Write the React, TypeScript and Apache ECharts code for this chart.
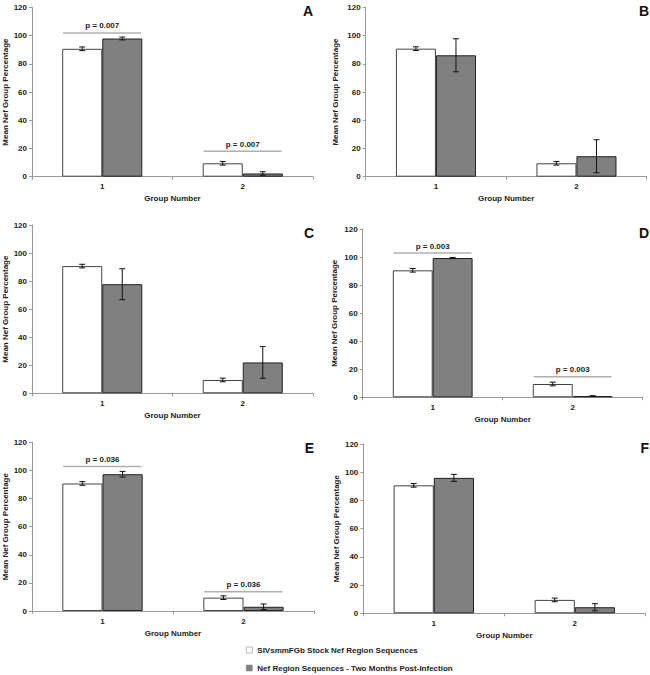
import React, { useEffect, useRef } from "react";
import * as echarts from "echarts";

// ---- data ----
const categories = ["1", "2"];
const panelLetters = ["A", "B", "C", "D", "E", "F"];
const stockName = "SIVsmmFGb Stock Nef Region Sequences";
const postName = "Nef Region Sequences - Two Months Post-Infection";
const stockMean = [90.7, 9.5];
const stockErr = [1.3, 1.3];
const postMeans = [
  [98.0, 2.3],
  [86.0, 14.5],
  [77.8, 22.0],
  [99.5, 0.9],
  [97.3, 3.0],
  [96.0, 4.3],
];
const postErrs = [
  [1.0, 1.2],
  [11.7, 11.7],
  [11.0, 11.3],
  [0.4, 0.3],
  [2.0, 2.0],
  [2.5, 2.5],
];
const pLabels: (string[] | null)[] = [
  ["p = 0.007", "p = 0.007"],
  null,
  null,
  ["p = 0.003", "p = 0.003"],
  ["p = 0.036", "p = 0.036"],
  null,
];
const pLineLevels: (number[] | null)[] = [
  [102, 18],
  null,
  null,
  [103, 14.7],
  [102.7, 13.7],
  null,
];
const yMin = 0;
const yMax = 120;
const yInterval = 20;

// ---- layout ----
const FONT = '"Liberation Sans", Arial, sans-serif';
const grids = [
  { left: 32, top: 7.5, width: 281, height: 169.2 },
  { left: 365.7, top: 7.3, width: 281, height: 169.4 },
  { left: 32, top: 225, width: 281, height: 168.3 },
  { left: 362.7, top: 229.3, width: 280, height: 168 },
  { left: 32, top: 442.3, width: 282, height: 168.7 },
  { left: 363.3, top: 444, width: 282, height: 169.3 },
];
const yNameGaps = [23, 26, 23, 24, 23, 23];
const letterPos = [
  { x: 313, y: 4 },
  { x: 649, y: 4 },
  { x: 314, y: 226 },
  { x: 649, y: 226 },
  { x: 314, y: 441 },
  { x: 649, y: 441 },
];
const BAR_FRAC = 0.285;

function buildOption() {
  const xAxis: any[] = [];
  const yAxis: any[] = [];
  const series: any[] = [];
  const graphic: any[] = [];

  grids.forEach((g, i) => {
    xAxis.push({
      type: "category",
      gridIndex: i,
      data: categories,
      name: "Group Number",
      nameLocation: "middle",
      nameGap: 18,
      nameTextStyle: { fontFamily: FONT, fontWeight: "bold", fontSize: 8, color: "#222" },
      axisLine: { lineStyle: { color: "#999", width: 1 } },
      axisTick: { show: true, length: 3, lineStyle: { color: "#999" } },
      axisLabel: { fontFamily: FONT, fontWeight: "bold", fontSize: 8, color: "#222", margin: 6 },
      splitLine: { show: false },
    });
    yAxis.push({
      type: "value",
      gridIndex: i,
      min: yMin,
      max: yMax,
      interval: yInterval,
      name: "Mean Nef Group Percentage",
      nameLocation: "middle",
      nameGap: yNameGaps[i],
      nameTextStyle: { fontFamily: FONT, fontWeight: "bold", fontSize: 8, color: "#222" },
      axisLine: { show: true, lineStyle: { color: "#999", width: 1 } },
      axisTick: { show: true, length: 3, lineStyle: { color: "#999" } },
      axisLabel: { fontFamily: FONT, fontWeight: "bold", fontSize: 8, color: "#222", margin: 5 },
      splitLine: { show: false },
    });

    series.push({
      name: stockName,
      type: "bar",
      xAxisIndex: i,
      yAxisIndex: i,
      data: stockMean,
      barWidth: BAR_FRAC * 100 + "%",
      barGap: "0%",
      itemStyle: { color: "#ffffff", borderColor: "#444", borderWidth: 1 },
      emphasis: { disabled: true },
    });
    series.push({
      name: postName,
      type: "bar",
      xAxisIndex: i,
      yAxisIndex: i,
      data: postMeans[i],
      barWidth: BAR_FRAC * 100 + "%",
      barGap: "0%",
      itemStyle: { color: "#808080", borderColor: "#222", borderWidth: 1 },
      emphasis: { disabled: true },
    });

    // error bars: [category, low, high, whichBar]
    const errData: number[][] = [];
    categories.forEach((_, c) => {
      errData.push([c, stockMean[c] - stockErr[c], stockMean[c] + stockErr[c], 0]);
      errData.push([c, postMeans[i][c] - postErrs[i][c], postMeans[i][c] + postErrs[i][c], 1]);
    });
    series.push({
      type: "custom",
      xAxisIndex: i,
      yAxisIndex: i,
      data: errData,
      encode: { x: 0, y: [1, 2] },
      silent: true,
      z: 5,
      renderItem: (params: any, api: any) => {
        const cat = api.value(0);
        const low = api.value(1);
        const high = api.value(2);
        const which = api.value(3);
        const band = api.size([1, 0])[0];
        const bw = band * BAR_FRAC;
        const pl = api.coord([cat, low]);
        const ph = api.coord([cat, high]);
        const x = pl[0] + (which === 0 ? -bw / 2 : bw / 2);
        const cap = 3;
        const style = { stroke: "#111", lineWidth: 1 };
        return {
          type: "group",
          children: [
            { type: "line", shape: { x1: x, y1: pl[1], x2: x, y2: ph[1] }, style },
            { type: "line", shape: { x1: x - cap, y1: pl[1], x2: x + cap, y2: pl[1] }, style },
            { type: "line", shape: { x1: x - cap, y1: ph[1], x2: x + cap, y2: ph[1] }, style },
          ],
        };
      },
    });

    const levels = pLineLevels[i];
    const labels = pLabels[i];
    if (levels && labels) {
      series.push({
        type: "custom",
        xAxisIndex: i,
        yAxisIndex: i,
        data: levels.map((v, c) => [c, v]),
        encode: { x: 0, y: 1 },
        silent: true,
        z: 6,
        renderItem: (params: any, api: any) => {
          const cat = api.value(0);
          const lvl = api.value(1);
          const band = api.size([1, 0])[0];
          const bw = band * BAR_FRAC;
          const p = api.coord([cat, lvl]);
          return {
            type: "group",
            children: [
              {
                type: "line",
                shape: { x1: p[0] - bw * 0.98, y1: p[1], x2: p[0] + bw * 0.97, y2: p[1] },
                style: { stroke: "#b0b0b0", lineWidth: 1.5 },
              },
              {
                type: "text",
                style: {
                  text: labels[params.dataIndex],
                  x: p[0],
                  y: p[1] - 3,
                  textAlign: "center",
                  textVerticalAlign: "bottom",
                  font: `bold 8px ${FONT}`,
                  fill: "#222",
                },
              },
            ],
          };
        },
      });
    }

    graphic.push({
      type: "text",
      right: 650 - letterPos[i].x,
      top: letterPos[i].y,
      style: {
        text: panelLetters[i],
        font: `bold 14px ${FONT}`,
        fill: "#111",
      },
    });
  });

  return {
    animation: false,
    backgroundColor: "#ffffff",
    grid: grids.map((g) => ({ ...g, containLabel: false })),
    xAxis,
    yAxis,
    series,
    graphic,
    legend: {
      data: [
        { name: stockName, itemStyle: { color: "#ffffff", borderColor: "#888", borderWidth: 0.6 } },
        { name: postName, itemStyle: { color: "#808080", borderColor: "#888", borderWidth: 0.6 } },
      ],
      orient: "vertical",
      left: 246,
      top: 645,
      padding: 0,
      itemWidth: 6,
      itemHeight: 6,
      itemGap: 8,
      icon: "rect",
      selectedMode: false,
      textStyle: { fontFamily: FONT, fontWeight: "bold", fontSize: 8, color: "#222", lineHeight: 10 },
    },
  };
}

export default function App() {
  const ref = useRef<HTMLDivElement>(null);
  useEffect(() => {
    if (!ref.current) return;
    const chart = echarts.init(ref.current, undefined, { renderer: "svg" });
    chart.setOption(buildOption() as any);
    return () => chart.dispose();
  }, []);
  return (
    <div
      ref={ref}
      style={{ position: "absolute", left: 0, top: 0, width: 650, height: 675, background: "#fff" }}
    />
  );
}
